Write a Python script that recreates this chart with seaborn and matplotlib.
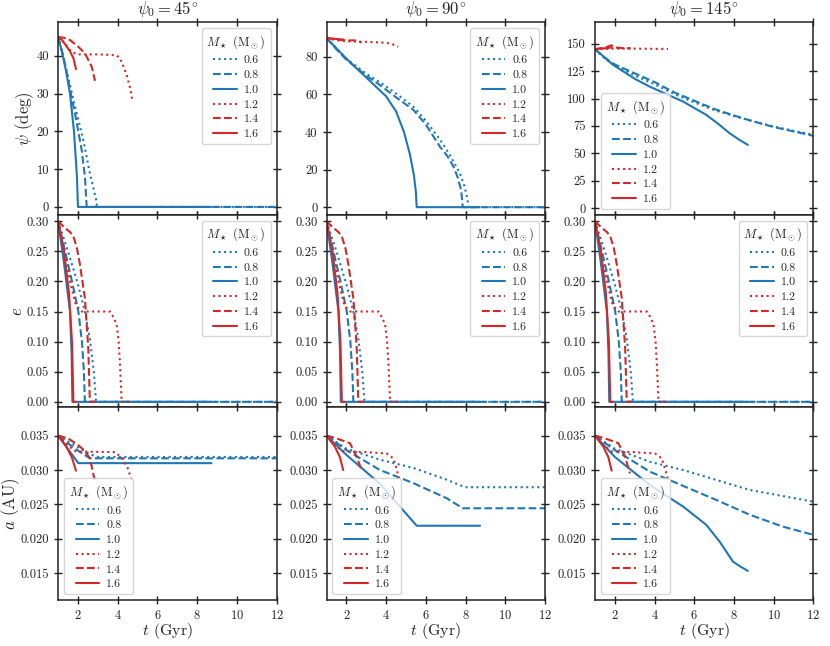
import numpy as np
import pandas as pd
import seaborn as sns
import matplotlib
matplotlib.use("Agg")
import matplotlib.pyplot as plt

# %% veriler
masses = [0.6, 0.8, 1.0, 1.2, 1.4, 1.6]
psi0_list = [45, 90, 145]

# psi0 = 45 -- psi (deg)
psi45_t = {
    0.6: [1, 1.3, 1.77, 2.27, 2.6, 2.94, 2.95, 12],
    0.8: [1, 1.3, 1.6, 1.85, 2.19, 2.35, 2.44, 12],
    1.0: [1, 1.2, 1.4, 1.6, 1.8, 1.95, 2.0, 8.7],
    1.2: [1, 1.3, 1.6, 1.94, 3.0, 3.95, 4.2, 4.45, 4.65, 4.73],
    1.4: [1, 1.3, 1.6, 2.0, 2.35, 2.69, 2.86],
    1.6: [1, 1.2, 1.43, 1.6, 1.77, 1.9],
}
psi45_y = {
    0.6: [45, 39, 28.4, 17.7, 8.9, 1.4, 0, 0],
    0.8: [45, 39, 31, 24.8, 15, 8, 0, 0],
    1.0: [45, 41, 36, 30, 20, 8, 0, 0],
    1.2: [45, 43.5, 41.5, 40.4, 40.4, 40.2, 38.5, 35, 31, 28.3],
    1.4: [45, 44.8, 44.2, 42.5, 40.7, 37.2, 33.4],
    1.6: [45, 44.2, 42.5, 41.2, 39.4, 36.5],
}

# psi0 = 90
psi90_t = {
    0.6: [1, 1.5, 2, 3, 3.69, 4.5, 5.37, 6, 6.71, 7.2, 7.72, 7.95, 8.1, 8.15, 12],
    0.8: [1, 1.5, 2, 3, 3.69, 4.5, 5.37, 6, 6.71, 7.1, 7.39, 7.6, 7.78, 7.86, 12],
    1.0: [1, 2, 3, 4, 4.5, 4.9, 5.2, 5.4, 5.5, 5.54, 8.7],
    1.2: [1, 1.5, 2, 3, 4, 4.3, 4.61],
    1.4: [1, 1.5, 2, 2.4, 2.76],
    1.6: [1, 1.4, 1.85],
}
psi90_y = {
    0.6: [90, 84.5, 79, 71, 66.5, 60.5, 53.5, 46, 36, 28, 18, 11, 4, 0, 0],
    0.8: [90, 84, 78.5, 70, 65, 58.5, 51.8, 44, 32.2, 27, 21.6, 16, 9, 0, 0],
    1.0: [90, 79, 69, 59, 51, 40, 28, 17, 8, 0, 0],
    1.2: [90, 88.8, 88.3, 88, 87.5, 86.8, 85.4],
    1.4: [90, 89.3, 88.7, 88.8, 87.6],
    1.6: [90, 89.6, 89.2],
}

# psi0 = 145
psi145_t = {
    0.6: [1, 1.5, 2, 3, 4, 5, 6, 7, 8, 9, 10, 11, 12],
    0.8: [1, 1.5, 2, 3, 4, 5, 6, 7, 8, 9, 10, 11, 12],
    1.0: [1, 1.92, 3, 3.76, 4.6, 5.44, 6.61, 7.2, 7.78, 8.3, 8.7],
    1.2: [1, 2, 3, 4, 4.68],
    1.4: [1, 1.5, 1.83, 2.0, 2.4, 2.8],
    1.6: [1, 1.5, 1.85],
}
psi145_y = {
    0.6: [145, 136.5, 130, 121, 113, 104, 96.5, 89.5, 84, 79, 74.5, 70.5, 67],
    0.8: [145, 137, 131, 123, 115, 105.5, 98, 90.5, 84.5, 79, 74, 70, 66],
    1.0: [145, 130.6, 118, 110.8, 104, 97.2, 85, 77, 68.3, 62, 57.7],
    1.2: [145, 145.5, 145.5, 145.3, 145.2],
    1.4: [145, 146.5, 148.5, 146.5, 146, 145.8],
    1.6: [145, 145.8, 146.5],
}

# eksantriklik e (uc panelde hemen hemen ayni)
e_t = {
    0.6: [1, 1.5, 2, 2.35, 2.6, 2.8, 2.91, 12],
    0.8: [1, 1.35, 1.7, 2.02, 2.2, 2.3, 2.35, 12],
    1.0: [1, 1.3, 1.6, 1.68, 1.72, 8.7],
    1.2: [1, 1.3, 1.6, 1.9, 2.19, 3.61, 3.8, 3.95, 4.05, 4.12, 4.2, 4.7],
    1.4: [1, 1.3, 1.6, 1.77, 1.95, 2.1, 2.35, 2.52, 2.6, 2.86],
    1.6: [1, 1.3, 1.55, 1.7, 1.77, 1.9],
}
e_y = {
    0.6: [0.3, 0.25, 0.195, 0.15, 0.105, 0.05, 0, 0],
    0.8: [0.3, 0.25, 0.2, 0.15, 0.1, 0.05, 0, 0],
    1.0: [0.3, 0.23, 0.15, 0.08, 0, 0],
    1.2: [0.3, 0.25, 0.2, 0.16, 0.15, 0.15, 0.14, 0.128, 0.1, 0.061, 0, 0],
    1.4: [0.3, 0.29, 0.282, 0.275, 0.255, 0.228, 0.172, 0.089, 0, 0],
    1.6: [0.3, 0.25, 0.18, 0.1, 0, 0],
}

# yari buyuk eksen a (AU)
a45_t = {
    0.6: [1, 2, 2.6, 3.0, 12],
    0.8: [1, 1.8, 2.6, 12],
    1.0: [1, 2.02, 8.73],
    1.2: [1, 1.5, 1.9, 3.86, 4.2, 4.5, 4.73],
    1.4: [1, 1.5, 2.02, 2.3, 2.6, 2.86],
    1.6: [1, 1.4, 1.7, 1.9],
}
a45_y = {
    0.6: [0.035, 0.0333, 0.0323, 0.0319, 0.0319],
    0.8: [0.035, 0.0332, 0.0317, 0.0317],
    1.0: [0.035, 0.031, 0.031],
    1.2: [0.035, 0.0335, 0.0327, 0.0326, 0.0318, 0.0303, 0.0283],
    1.4: [0.035, 0.0346, 0.0336, 0.0329, 0.0317, 0.0283],
    1.6: [0.035, 0.0335, 0.0318, 0.0299],
}

a90_t = {
    0.6: [1, 2, 3.69, 5.37, 7.05, 7.97, 12],
    0.8: [1, 2, 3.69, 5.37, 7.05, 7.86, 12],
    1.0: [1, 2, 3.69, 5.54, 8.73],
    1.2: [1, 1.4, 1.84, 3, 4.03, 4.36, 4.55, 4.65],
    1.4: [1, 1.5, 2.18, 2.52, 2.76],
    1.6: [1, 1.42, 1.67, 1.84],
}
a90_y = {
    0.6: [0.035, 0.0331, 0.0315, 0.0303, 0.0286, 0.0275, 0.0275],
    0.8: [0.035, 0.0329, 0.0300, 0.0281, 0.0259, 0.02444, 0.02444],
    1.0: [0.035, 0.0322, 0.0280, 0.0219, 0.0219],
    1.2: [0.035, 0.0337, 0.0327, 0.0326, 0.0324, 0.0317, 0.030, 0.0283],
    1.4: [0.035, 0.0346, 0.0339, 0.0319, 0.0300],
    1.6: [0.035, 0.0334, 0.0319, 0.0300],
}

a145_t = {
    0.6: [1, 2, 3.76, 5.44, 7.11, 8.79, 12],
    0.8: [1, 2, 3.76, 5.44, 7.11, 8.79, 10.46, 12],
    1.0: [1, 2, 3.76, 5.44, 6.61, 7.3, 7.95, 8.3, 8.7],
    1.2: [1, 1.4, 1.84, 3, 4.03, 4.36, 4.55, 4.71],
    1.4: [1, 1.5, 2.18, 2.52, 2.76],
    1.6: [1, 1.42, 1.67, 1.84],
}
a145_y = {
    0.6: [0.035, 0.0331, 0.0312, 0.0300, 0.02856, 0.0271, 0.0254],
    0.8: [0.035, 0.0329, 0.02977, 0.02769, 0.02565, 0.0235, 0.02177, 0.02057],
    1.0: [0.035, 0.0319, 0.02783, 0.02468, 0.02202, 0.0195, 0.01668, 0.0160, 0.01533],
    1.2: [0.035, 0.0337, 0.0327, 0.0326, 0.0324, 0.0317, 0.030, 0.0283],
    1.4: [0.035, 0.0346, 0.0339, 0.0319, 0.0295],
    1.6: [0.035, 0.0334, 0.0319, 0.0299],
}

# %% stil
sns.set_theme(style="ticks")
plt.rcParams["font.family"] = ["cmr10", "DejaVu Serif"]
plt.rcParams["mathtext.fontset"] = "cm"
plt.rcParams["axes.formatter.use_mathtext"] = True
plt.rcParams["axes.unicode_minus"] = False

renk = {0.6: "#1f77b4", 0.8: "#1f77b4", 1.0: "#1f77b4",
        1.2: "#d62728", 1.4: "#d62728", 1.6: "#d62728"}
cizgi = {0.6: ":", 0.8: "--", 1.0: "-", 1.2: ":", 1.4: "--", 1.6: "-"}

panel_t = [[psi45_t, psi90_t, psi145_t], [e_t, e_t, e_t], [a45_t, a90_t, a145_t]]
panel_y = [[psi45_y, psi90_y, psi145_y], [e_y, e_y, e_y], [a45_y, a90_y, a145_y]]

ylims = [[(-2.1, 48.9), (-4.1, 98.4), (-6.1, 169.5)],
         [(-0.0093, 0.3105)] * 3,
         [(0.0111, 0.0391)] * 3]
yticks = [[np.arange(0, 41, 10), np.arange(0, 81, 20), np.arange(0, 151, 25)],
          [np.arange(0, 0.301, 0.05)] * 3,
          [np.arange(0.015, 0.0351, 0.005)] * 3]
yfmt = ["{:.0f}", "{:.2f}", "{:.3f}"]
leg_loc = [["upper right", "upper right", "lower left"],
           ["upper right"] * 3,
           ["lower left"] * 3]
ylabels = [r"$\psi$ (deg)", r"$e$", r"$a$ (AU)"]
ylabel_x = [-0.10, -0.152, -0.165]

fig, axes = plt.subplots(3, 3, figsize=(8.3, 6.46), dpi=100, sharex=True)
fig.subplots_adjust(left=0.070, right=0.980, top=0.9655, bottom=0.0712,
                    wspace=0.229, hspace=0.0)

for i in range(3):
    for j in range(3):
        ax = axes[i, j]
        for m in masses:
            df = pd.DataFrame({"t": panel_t[i][j][m], "y": panel_y[i][j][m]})
            sns.lineplot(data=df, x="t", y="y", ax=ax, color=renk[m],
                         linestyle=cizgi[m], linewidth=1.5, sort=False,
                         estimator=None, errorbar=None, label=f"{m:.1f}")
        ax.set_xlim(1, 12)
        ax.set_ylim(*ylims[i][j])
        ax.set_yticks(yticks[i][j])
        ax.set_yticklabels([yfmt[i].format(v) for v in yticks[i][j]])
        ax.set_xticks([2, 4, 6, 8, 10, 12])
        ax.tick_params(direction="inout", length=6, width=1.0, top=True,
                       right=True, labelsize=9, colors="#222222",
                       labelcolor="#222222")
        for s in ax.spines.values():
            s.set_linewidth(1.1)
            s.set_color("#222222")
        if i == 2:
            ax.set_xlabel(r"$t$ (Gyr)", fontsize=11.5, labelpad=-1)
        else:
            ax.set_xlabel("")
        if j == 0:
            ax.set_ylabel(ylabels[i], fontsize=12)
            ax.yaxis.set_label_coords(ylabel_x[i], 0.5)
        else:
            ax.set_ylabel("")
        if i == 0:
            ax.set_title(rf"$\psi_0 = {psi0_list[j]}^{{\!\circ}}$", fontsize=12)
        ax.legend(title=r"$M_\star$ (M$_\odot$)", loc=leg_loc[i][j],
                  fontsize=8.5, title_fontsize=9, labelspacing=0.38,
                  handlelength=2.0, handletextpad=0.6, frameon=True)

fig.savefig("out.png", dpi=100)
